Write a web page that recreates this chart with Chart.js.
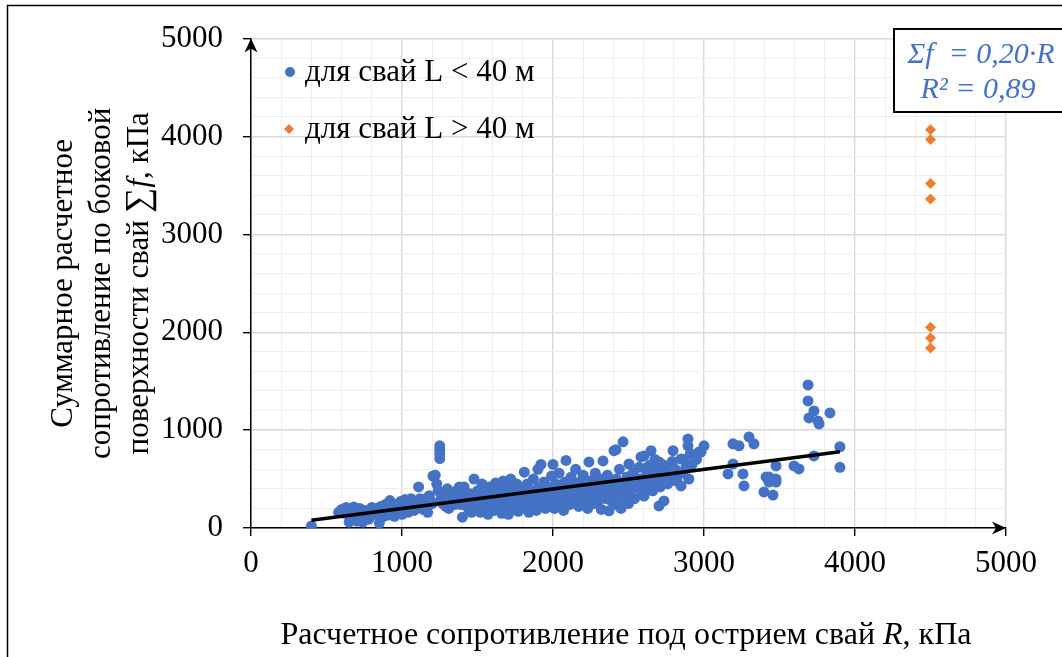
<!DOCTYPE html>
<html lang="ru">
<head>
<meta charset="utf-8">
<title>Сопротивление свай</title>
<script src="https://cdn.jsdelivr.net/npm/chart.js@4.4.1/dist/chart.umd.min.js"></script>
<style>
  html, body { margin: 0; padding: 0; background: #fff; }
  #wrap { width: 1062px; height: 657px; }
</style>
</head>
<body>
<div id="wrap"><canvas id="pileChart" width="1062" height="657"></canvas></div>
<script>
// R, kPa (tip) vs total side resistance Σf, kPa
const shortPiles = [ // L < 40 m
  [400,20],[580,160],[600,190],[620,150],[630,210],[650,60],[660,120],[680,215],[690,130],[700,70],
  [710,150],[720,200],[730,110],[740,60],[750,180],[760,170],[780,90],[790,150],[800,210],[820,140],
  [830,200],[850,50],[860,220],[870,110],[880,180],[890,240],[900,130],[920,280],[940,170],[950,120],
  [960,240],[970,210],[980,180],[990,270],[1000,140],
  [1020,290],[1030,210],[1040,160],[1050,250],[1060,300],[1080,180],[1090,260],[1100,220],[1110,420],
  [1120,300],[1130,230],[1140,190],[1150,270],[1160,300],[1170,160],[1180,330],[1190,280],[1200,250],
  [1205,530],[1220,540],[1230,450],[1240,380],[1250,840],[1250,800],[1250,760],[1250,710],[1260,300],
  [1270,250],[1280,330],[1290,220],[1300,400],[1310,200],[1320,280],[1330,240],[1340,330],[1350,240],
  [1360,380],[1370,300],[1380,420],[1390,240],[1400,330],[1400,110],[1411,420],[1420,270],[1430,330],
  [1440,200],[1450,350],[1460,160],[1470,230],[1477,500],[1480,290],[1490,180],
  [1500,380],[1510,250],[1515,330],[1520,160],[1530,450],[1540,300],[1545,230],[1550,200],[1560,350],
  [1570,140],[1575,380],[1580,420],[1590,270],[1600,330],[1605,260],[1610,180],[1620,460],[1630,250],
  [1635,330],[1640,390],[1650,300],[1655,420],[1660,150],[1670,480],[1680,220],[1685,290],[1690,350],
  [1700,420],[1705,140],[1710,280],[1715,380],[1720,500],[1730,200],[1740,360],[1745,240],[1750,300],
  [1760,450],[1770,170],[1775,330],[1780,260],[1790,400],[1795,200],[1800,330],[1810,570],[1820,220],
  [1825,380],[1830,450],[1840,160],[1850,300],[1855,230],[1860,380],[1870,500],[1880,250],[1885,330],
  [1890,180],[1900,600],[1905,420],[1910,330],[1915,250],[1920,650],[1930,270],[1940,470],[1945,380],
  [1950,200],[1960,350],[1970,420],[1975,230],[1980,290],[1990,530],[1995,320],[2000,380],[2000,650],
  [2010,200],[2020,450],[2025,260],[2030,310],[2040,560],[2050,260],[2055,400],[2060,380],[2070,180],
  [2080,470],[2085,300],[2086,690],[2090,330],[2100,420],[2110,240],[2115,380],[2120,520],[2130,360],
  [2140,290],[2145,450],[2150,600],[2160,410],[2170,220],[2175,300],[2180,470],[2190,350],[2200,540],
  [2205,380],[2210,290],[2220,420],[2230,200],[2235,330],[2238,675],[2250,480],[2260,360],[2265,450],
  [2270,250],[2280,560],[2290,430],[2295,260],[2300,320],[2310,500],[2320,190],[2325,380],[2331,685],
  [2340,400],[2350,300],[2355,450],[2360,540],[2371,175],[2380,450],[2385,280],[2390,350],[2404,790],
  [2410,240],[2415,400],[2417,800],[2420,500],[2430,380],[2440,600],[2445,330],[2450,200],[2464,880],
  [2470,430],[2475,260],[2480,330],[2490,520],[2495,400],[2500,250],
  [2503,654],[2510,460],[2515,330],[2520,380],[2530,560],[2540,300],[2545,420],[2550,500],[2560,420],
  [2570,620],[2575,500],[2583,726],[2590,360],[2595,440],[2603,327],[2603,736],[2610,480],[2615,380],
  [2620,550],[2625,620],[2630,420],[2640,640],[2645,560],[2649,790],[2650,500],[2655,440],[2660,380],
  [2665,520],[2670,600],[2675,700],[2680,460],[2685,620],[2690,540],[2695,480],[2702,675],[2702,225],
  [2710,420],[2715,520],[2720,580],[2725,650],[2735,276],[2740,500],[2750,560],[2760,450],[2770,520],
  [2780,600],[2790,680],[2795,790],[2800,520],[2810,600],[2820,480],[2830,550],[2848,705],[2848,430],
  [2860,560],[2870,700],[2880,620],[2894,910],[2894,840],[2900,500],[2910,760],[2920,650],[2950,700],
  [2967,777],[2980,775],[3000,840],
  [3159,552],[3192,860],[3192,654],[3232,840],[3258,552],[3265,430],[3298,930],[3331,860],[3397,368],
  [3411,520],[3430,470],[3430,520],[3457,337],[3477,634],[3477,500],[3477,470],[3596,634],[3629,603],
  [3689,1462],[3689,1298],[3695,1125],[3728,1196],[3728,736],[3755,1094],[3762,1063],[3834,1176],
  [3900,830],[3900,620]
];
const longPiles = [ // L > 40 m
  [4500,4070],[4500,3970],[4500,3520],[4500,3360],[4500,2050],[4500,1940],[4500,1840]
];
const tickLabels = [0, 1000, 2000, 3000, 4000, 5000];
const trendSlope = 0.20;
const rSquared = 0.89;

const SERIF = '"Liberation Serif", "Times New Roman", serif';
const BLUE = '#4472C4';
const ORANGE = '#ED7D31';

// trend line Σf = k·R over the range of short piles
const rValues = shortPiles.map(p => p[0]);
const rMin = Math.min(...rValues), rMax = Math.max(...rValues);
const trend = [rMin, rMax].map(r => ({ x: r, y: trendSlope * r }));

const toXY = arr => arr.map(([x, y]) => ({ x, y }));
const fmt = v => v.toFixed(2).replace('.', ',');

function richText(ctx, parts, cx, cy) {
  let total = 0;
  parts.forEach(p => { ctx.font = p.font; p.w = ctx.measureText(p.text).width; total += p.w; });
  let x = cx - total / 2;
  ctx.textAlign = 'left';
  ctx.textBaseline = 'middle';
  parts.forEach(p => { ctx.font = p.font; ctx.fillText(p.text, x, cy); x += p.w; });
}

function arrowHead(ctx, x, y, dir) {
  ctx.save();
  ctx.translate(x, y);
  if (dir === 'up') ctx.rotate(-Math.PI / 2);
  ctx.beginPath();
  ctx.moveTo(0, 0);
  ctx.lineTo(-14, -6.5);
  ctx.lineTo(-10, 0);
  ctx.lineTo(-14, 6.5);
  ctx.closePath();
  ctx.fillStyle = '#000';
  ctx.fill();
  ctx.restore();
}

const overlay = {
  id: 'overlay',
  afterDraw(chart) {
    const { ctx, chartArea: a } = chart;
    ctx.save();

    // outer frame
    ctx.strokeStyle = '#000';
    ctx.lineWidth = 1.5;
    ctx.strokeRect(7.5, 5.5, 1200, 800);

    arrowHead(ctx, a.right, a.bottom, 'right');
    arrowHead(ctx, a.left, a.top, 'up');

    // legend
    ctx.fillStyle = BLUE;
    ctx.beginPath();
    ctx.arc(290, 72, 5, 0, Math.PI * 2);
    ctx.fill();
    ctx.fillStyle = ORANGE;
    ctx.beginPath();
    ctx.moveTo(289, 124); ctx.lineTo(294, 129); ctx.lineTo(289, 134); ctx.lineTo(284, 129);
    ctx.closePath();
    ctx.fill();
    ctx.fillStyle = '#000';
    ctx.font = '31px ' + SERIF;
    ctx.textAlign = 'left';
    ctx.textBaseline = 'middle';
    ctx.fillText('для свай L < 40 м', 305, 73);
    ctx.fillText('для свай L > 40 м', 305, 130);

    // x axis title
    const reg = '31px ' + SERIF, ital = 'italic 31px ' + SERIF;
    richText(ctx, [
      { text: 'Расчетное сопротивление под острием свай ', font: 'normal 32px ' + SERIF },
      { text: 'R', font: 'italic 32px ' + SERIF },
      { text: ', кПа', font: 'normal 32px ' + SERIF }
    ], 626, 636);

    // y axis title, three rotated lines
    const midY = (a.top + a.bottom) / 2;
    const lines = [
      [{ text: 'Суммарное расчетное', font: reg }],
      [{ text: 'сопротивление по боковой', font: reg }],
      [{ text: 'поверхности свай ', font: reg }, { text: '∑', font: '35px ' + SERIF },
       { text: 'f', font: ital }, { text: ', кПа', font: reg }]
    ];
    [64, 102, 140].forEach((x, i) => {
      ctx.save();
      ctx.translate(x, midY);
      ctx.rotate(-Math.PI / 2);
      richText(ctx, lines[i], 0, 0);
      ctx.restore();
    });

    // regression box
    ctx.fillStyle = '#fff';
    ctx.fillRect(894, 29, 180, 83);
    ctx.strokeStyle = '#000';
    ctx.lineWidth = 2;
    ctx.strokeRect(894, 29, 180, 83);
    ctx.fillStyle = BLUE;
    ctx.font = 'italic 30px ' + SERIF;
    ctx.textAlign = 'center';
    ctx.textBaseline = 'middle';
    ctx.fillText('Σf  = ' + fmt(trendSlope) + '·R', 981, 55);
    ctx.fillText('R² = ' + fmt(rSquared), 978, 90);

    ctx.restore();
  }
};

const isMajor = v => tickLabels.includes(v);
const gridOpts = {
  color: c => isMajor(c.tick.value) ? '#d9d9d9' : '#eeeeee',
  lineWidth: c => isMajor(c.tick.value) ? 1.4 : 1,
  tickColor: c => isMajor(c.tick.value) ? '#000' : 'rgba(0,0,0,0)',
  tickLength: 8,
  tickWidth: 1.4
};

new Chart(document.getElementById('pileChart'), {
  type: 'scatter',
  data: {
    datasets: [{
      type: 'line',
      data: trend,
      borderColor: '#000',
      borderWidth: 3.5,
      pointRadius: 0,
      fill: false
    }, {
      label: 'для свай L < 40 м',
      data: toXY(shortPiles),
      backgroundColor: BLUE,
      borderWidth: 0,
      pointRadius: 5.5
    }, {
      label: 'для свай L > 40 м',
      data: toXY(longPiles),
      backgroundColor: ORANGE,
      borderWidth: 0,
      pointStyle: 'rectRot',
      pointRadius: 5.5
    }]
  },
  options: {
    responsive: false,
    animation: false,
    layout: { padding: { top: 38, right: 56, left: 0, bottom: 0 } },
    plugins: { legend: { display: false }, tooltip: { enabled: false } },
    scales: {
      x: {
        type: 'linear',
        min: 0, max: 5000,
        afterFit: s => { s.height = 129; },
        grid: gridOpts,
        border: { color: '#000', width: 1.5 },
        ticks: {
          stepSize: 200,
          autoSkip: false,
          maxRotation: 0,
          padding: 9,
          color: '#000',
          font: { family: SERIF, size: 31 },
          callback: v => isMajor(v) ? String(v) : ''
        }
      },
      y: {
        type: 'linear',
        min: 0, max: 5000,
        afterFit: s => { s.width = 251; },
        grid: gridOpts,
        border: { color: '#000', width: 1.5 },
        ticks: {
          stepSize: 200,
          autoSkip: false,
          padding: 20,
          color: '#000',
          font: { family: SERIF, size: 31 },
          callback: v => isMajor(v) ? String(v) : ''
        }
      }
    }
  },
  plugins: [overlay]
});
</script>
</body>
</html>
